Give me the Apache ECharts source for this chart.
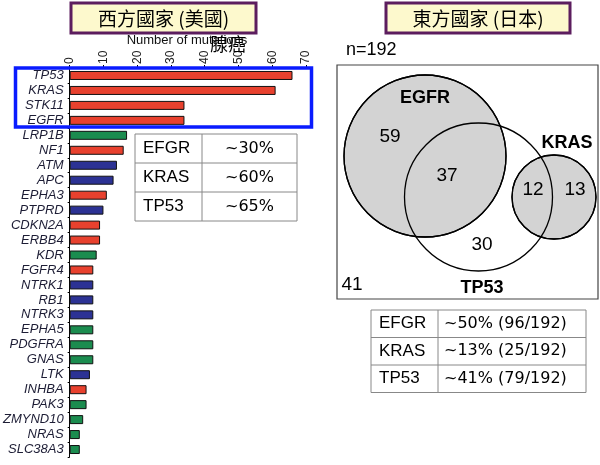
<!DOCTYPE html>
<html>
<head>
<meta charset="utf-8">
<script src="https://cdn.jsdelivr.net/npm/echarts@6/dist/echarts.min.js"></script>
<style>
html,body{margin:0;padding:0;background:#fff;}
#chart{width:600px;height:465px;}
</style>
</head>
<body>
<div id="chart"></div>
<script>
// ---- Western (US) lung adenocarcinoma mutation counts ----
const genes = ["TP53","KRAS","STK11","EGFR","LRP1B","NF1","ATM","APC","EPHA3","PTPRD","CDKN2A","ERBB4","KDR","FGFR4","NTRK1","RB1","NTRK3","EPHA5","PDGFRA","GNAS","LTK","INHBA","PAK3","ZMYND10","NRAS","SLC38A3"];
const mutationCounts = [66,61,34,34,17,16,14,13,11,10,9,9,8,7,7,7,7,7,7,7,6,5,5,4,3,3];
const geneGroup = ["r","r","r","r","g","r","b","b","r","b","r","r","g","r","b","b","b","g","g","g","b","r","g","g","g","g"];
const xTicks = [0,10,20,30,40,50,60,70];

// ---- Western table ----
const westTableGenes = ["EFGR","KRAS","TP53"];
const westTablePct = ["~30%","~60%","~65%"];

// ---- Eastern (Japan) Venn ----
const vennN = 192;
const vennSetNames = ["EGFR","TP53","KRAS"];
const vennCounts = [59,37,12,13,30,41]; // EGFR only, EGFR&TP53, KRAS&TP53, KRAS only, TP53 only, none
const eastTableGenes = ["EFGR","KRAS","TP53"];
const eastTableVals = ["~50% (96/192)","~13% (25/192)","~41% (79/192)"];

// layout (pixel units inside venn frame)
const vennCircleLayout = [[88,91,81],[141.5,132,74],[217,132,42]];
const vennCountLayout = [[53,72],[110,111],[196,125],[238,125],[145,180],[15,220]];
const vennNameLayout = [[88,33],[145,223],[230,78]];

const colorMap = {r:"#e8412e", g:"#1b8c4f", b:"#2c3294"};

const chart = echarts.init(document.getElementById('chart'));

const barData = mutationCounts.map((v,i)=>({value:v, itemStyle:{color:colorMap[geneGroup[i]]}}));

const font = "'Liberation Sans', Arial, sans-serif";
const font2 = "'DejaVu Sans', sans-serif";
const cjk = "'Noto Sans CJK TC', sans-serif";

// tables
function table(x, y, colW, rowH, c1, c2, center2, fs){
  const els = [];
  const n = c1.length;
  const w = colW[0]+colW[1];
  els.push({type:'rect', shape:{x:x,y:y,width:w,height:rowH*n}, style:{fill:'#fff',stroke:'#888',lineWidth:1}, z:50});
  for(let i=1;i<n;i++){
    els.push({type:'line', shape:{x1:x,y1:y+rowH*i,x2:x+w,y2:y+rowH*i}, style:{stroke:'#888',lineWidth:1}, z:51});
  }
  els.push({type:'line', shape:{x1:x+colW[0],y1:y,x2:x+colW[0],y2:y+rowH*n}, style:{stroke:'#888',lineWidth:1}, z:51});
  for(let i=0;i<n;i++){
    els.push({type:'text', x:x+8, y:y+rowH*i+rowH/2, style:{text:c1[i], font:fs+"px "+font, fill:'#000', textVerticalAlign:'middle', verticalAlign:'middle'}, z:52});
    if(center2){
      els.push({type:'text', x:x+colW[0]+colW[1]/2, y:y+rowH*i+rowH/2, style:{text:c2[i], font:(fs-1)+"px "+font2, fill:'#000', align:'center', textAlign:'center', verticalAlign:'middle', textVerticalAlign:'middle'}, z:52});
    } else {
      els.push({type:'text', x:x+colW[0]+6, y:y+rowH*i+rowH/2, style:{text:c2[i], font:(fs-1)+"px "+font2, fill:'#000', verticalAlign:'middle', textVerticalAlign:'middle'}, z:52});
    }
  }
  return els;
}

function titleBox(x, y, w, h, txt){
  return [
    {type:'rect', shape:{x:x,y:y,width:w,height:h}, style:{fill:'#fdf9cd',stroke:'#5c1d5e',lineWidth:3}, z:50},
    {type:'text', x:x+w/2, y:y+h/2+1, style:{text:txt, font:"19px "+cjk, fill:'#000', align:'center', textAlign:'center', verticalAlign:'middle', textVerticalAlign:'middle'}, z:51}
  ];
}

const graphics = [].concat(
  titleBox(71, 3, 185, 30, "西方國家 (美國)"),
  titleBox(386, 3, 184, 30, "東方國家 (日本)"),
  [
    {type:'text', x:187, y:40, style:{text:"Number of mutations", font:"13px "+font, fill:'#111', align:'center', textAlign:'center', verticalAlign:'middle', textVerticalAlign:'middle'}, z:40},
    {type:'text', x:228, y:44, style:{text:"腺癌", font:"18px "+cjk, fill:'#000', align:'center', textAlign:'center', verticalAlign:'middle', textVerticalAlign:'middle'}, z:41},
    {type:'text', x:346, y:50, style:{text:"n="+vennN, font:"18px "+font, fill:'#000', verticalAlign:'middle', textVerticalAlign:'middle'}, z:40},
    {type:'rect', shape:{x:15.5,y:68,width:296,height:59}, style:{fill:'none',stroke:'#0a1cff',lineWidth:3.5}, z:60}
  ],
  table(135, 134, [67,95], 29, westTableGenes, westTablePct, true, 17),
  table(371, 310, [67,148], 27.5, eastTableGenes, eastTableVals, false, 17)
);

const option = {
  animation:false,
  backgroundColor:'#fff',
  graphic: graphics,
  grid:[
    {left:68, top:68, width:238, height:389, containLabel:false},
    {left:337, top:65, width:261, height:234, show:true, borderColor:'#444', borderWidth:1.2, backgroundColor:'#fff'}
  ],
  xAxis:[
    {type:'value', gridIndex:0, position:'top', min:0, max:70, interval:10,
     axisLine:{show:true, lineStyle:{color:'#000'}}, axisTick:{show:true, length:3, lineStyle:{color:'#000'}},
     axisLabel:{rotate:-90, fontSize:12, fontFamily:font, color:'#222', margin:4},
     splitLine:{show:false}},
    {type:'value', gridIndex:1, min:0, max:261, show:false}
  ],
  yAxis:[
    {type:'category', gridIndex:0, data:genes, inverse:true,
     axisLine:{show:true, lineStyle:{color:'#000', width:1}},
     axisTick:{show:true, length:2, lineStyle:{color:'#000'}},
     axisLabel:{interval:0, hideOverlap:false, fontSize:13, fontStyle:'italic', fontFamily:font, color:'#1d1d35', margin:6}},
    {type:'value', gridIndex:1, min:0, max:234, inverse:true, show:false}
  ],
  series:[
    {type:'bar', xAxisIndex:0, yAxisIndex:0, data:barData, barWidth:9,
     itemStyle:{borderColor:'#111', borderWidth:1}},
    // Venn circles: EGFR and KRAS filled, TP53 outline on top
    {type:'scatter', xAxisIndex:1, yAxisIndex:1, z:3,
     data:[vennCircleLayout[0], vennCircleLayout[2]],
     symbol:'circle', symbolSize:(v)=>v[2]*2,
     itemStyle:{color:'#d3d3d3', borderColor:'#000', borderWidth:1.3, opacity:1}},
    {type:'scatter', xAxisIndex:1, yAxisIndex:1, z:4,
     data:[vennCircleLayout[1]],
     symbol:'circle', symbolSize:(v)=>v[2]*2,
     itemStyle:{color:'rgba(0,0,0,0)', borderColor:'#000', borderWidth:1.3, opacity:1}},
    {type:'scatter', xAxisIndex:1, yAxisIndex:1, z:5,
     data:[vennCircleLayout[0], vennCircleLayout[2]],
     symbol:'circle', symbolSize:(v)=>v[2]*2,
     itemStyle:{color:'rgba(0,0,0,0)', borderColor:'#000', borderWidth:1.3, opacity:1}},
    // region counts
    {type:'scatter', xAxisIndex:1, yAxisIndex:1, z:6, symbolSize:1,
     itemStyle:{opacity:1, color:'rgba(0,0,0,0)'},
     data:vennCounts.map((c,i)=>({value:[vennCountLayout[i][0], vennCountLayout[i][1]], name:String(c)})),
     label:{show:true, position:'inside', formatter:(p)=>p.name, fontSize:19, fontFamily:font, color:'#000', opacity:1}},
    // set names
    {type:'scatter', xAxisIndex:1, yAxisIndex:1, z:6, symbolSize:1,
     itemStyle:{opacity:1, color:'rgba(0,0,0,0)'},
     data:vennSetNames.map((s,i)=>({value:vennNameLayout[i], name:s})),
     label:{show:true, position:'inside', formatter:(p)=>p.name, fontSize:18, fontWeight:'bold', fontFamily:font, color:'#000', opacity:1}}
  ]
};
chart.setOption(option);
</script>
</body>
</html>
